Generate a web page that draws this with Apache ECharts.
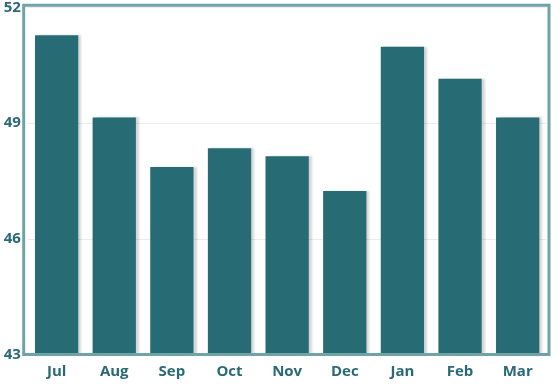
<!DOCTYPE html>
<html>
<head>
<meta charset="utf-8">
<script src="https://cdn.jsdelivr.net/npm/echarts@6/dist/echarts.min.js"></script>
<style>html,body{margin:0;padding:0;background:#fff}#c{width:560px;height:390px}</style>
</head>
<body>
<div id="c"></div>
<script>
const categories = ['Jul','Aug','Sep','Oct','Nov','Dec','Jan','Feb','Mar'];
const values = [51.28, 49.15, 47.86, 48.35, 48.14, 47.24, 50.98, 50.15, 49.15];
const yMin = 43, yMax = 52, yStep = 3;

const chart = echarts.init(document.getElementById('c'), null, {renderer: 'canvas'});
const labelColor = '#2a6a76';
const frameColor = '#6fa3a8';
const font = '"Open Sans", sans-serif';
chart.setOption({
  animation: false,
  grid: {
    left: 27.8, right: 13.5, top: 5.3, bottom: 35.5,
    show: false
  },
  graphic: [{
    type: 'rect',
    z: 100,
    silent: true,
    shape: {x: 23.7, y: 5.2, width: 525.3, height: 349.3},
    style: {fill: 'none', stroke: frameColor, lineWidth: 3}
  }],
  xAxis: {
    type: 'category',
    data: categories,
    axisLine: {show: false},
    axisTick: {show: false},
    axisLabel: {color: labelColor, fontWeight: 'bold', fontSize: 15, fontFamily: font, margin: 10}
  },
  yAxis: {
    type: 'value',
    min: yMin, max: yMax, interval: yStep,
    axisLine: {show: false},
    axisTick: {show: false},
    splitLine: {lineStyle: {color: '#ebebeb', width: 1}},
    axisLabel: {color: labelColor, fontWeight: 'bold', fontSize: 15, fontFamily: font, margin: 7}
  },
  series: [{
    type: 'bar',
    data: values,
    barWidth: 43.3,
    itemStyle: {
      color: '#276b75',
      shadowColor: 'rgba(0,0,0,0.16)',
      shadowOffsetX: 3,
      shadowOffsetY: 0,
      shadowBlur: 2
    }
  }]
});
</script>
</body>
</html>
